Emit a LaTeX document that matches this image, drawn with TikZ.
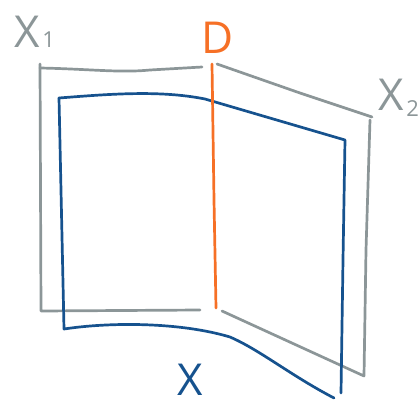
\documentclass[tikz,border=0pt]{standalone}
\usepackage{fontspec}
\setsansfont{Open Sans}
\definecolor{SketchGrey}{RGB}{140, 150, 152}
\definecolor{SketchBlue}{RGB}{22, 82, 142}
\definecolor{SketchOrange}{RGB}{246, 112, 38}

\begin{document}
\begin{tikzpicture}[x=1pt, y=-1pt, line width=2.7pt, line cap=round, line join=round,
	lbl/.style={font=\sffamily\fontsize{44}{44}\selectfont, inner sep=0pt},
	sub/.style={font=\sffamily\fontsize{22}{22}\selectfont, inner sep=0pt}]
	\useasboundingbox (0,0) rectangle (418,408);
	% grey pages
	\draw[SketchGrey] (40,64) -- (41,311) -- (200,310);
	\draw[SketchGrey] (40,68) .. controls (90,69) and (120,73) .. (150,70) -- (202,67);
	\draw[SketchGrey] (217,64) -- (300,93) -- (372,117);
	\draw[SketchGrey] (370,120) -- (366,250) -- (364,376) -- (222,311);
	% blue page
	\draw[SketchBlue] (59,98) .. controls (110,94) and (160,90) .. (205,99)
		-- (345,140) -- (343,260) -- (341,393);
	\draw[SketchBlue] (59,98) -- (64,329) .. controls (110,322) and (180,322) .. (230,337)
		.. controls (260,350) and (290,375) .. (334,398);
	% orange cut
	\draw[SketchOrange] (212,64) -- (214,200) -- (216,308);
	% labels
	\node[lbl, text=SketchGrey, anchor=base] (x1) at (27,47) {X};
	\node[sub, text=SketchGrey, anchor=base west] (x1s) at (x1.base east) {1};
	\node[lbl, text=SketchGrey, anchor=base] (x2) at (391,110) {X};
	\node[sub, text=SketchGrey, anchor=base west] (x2s) at ([yshift=-6pt]x2.base east) {2};
	\node[lbl, text=SketchOrange, anchor=base] (d) at (218,53) {D};
	\node[lbl, text=SketchBlue, anchor=base] (x) at (190,395) {X};
\end{tikzpicture}
\end{document}
